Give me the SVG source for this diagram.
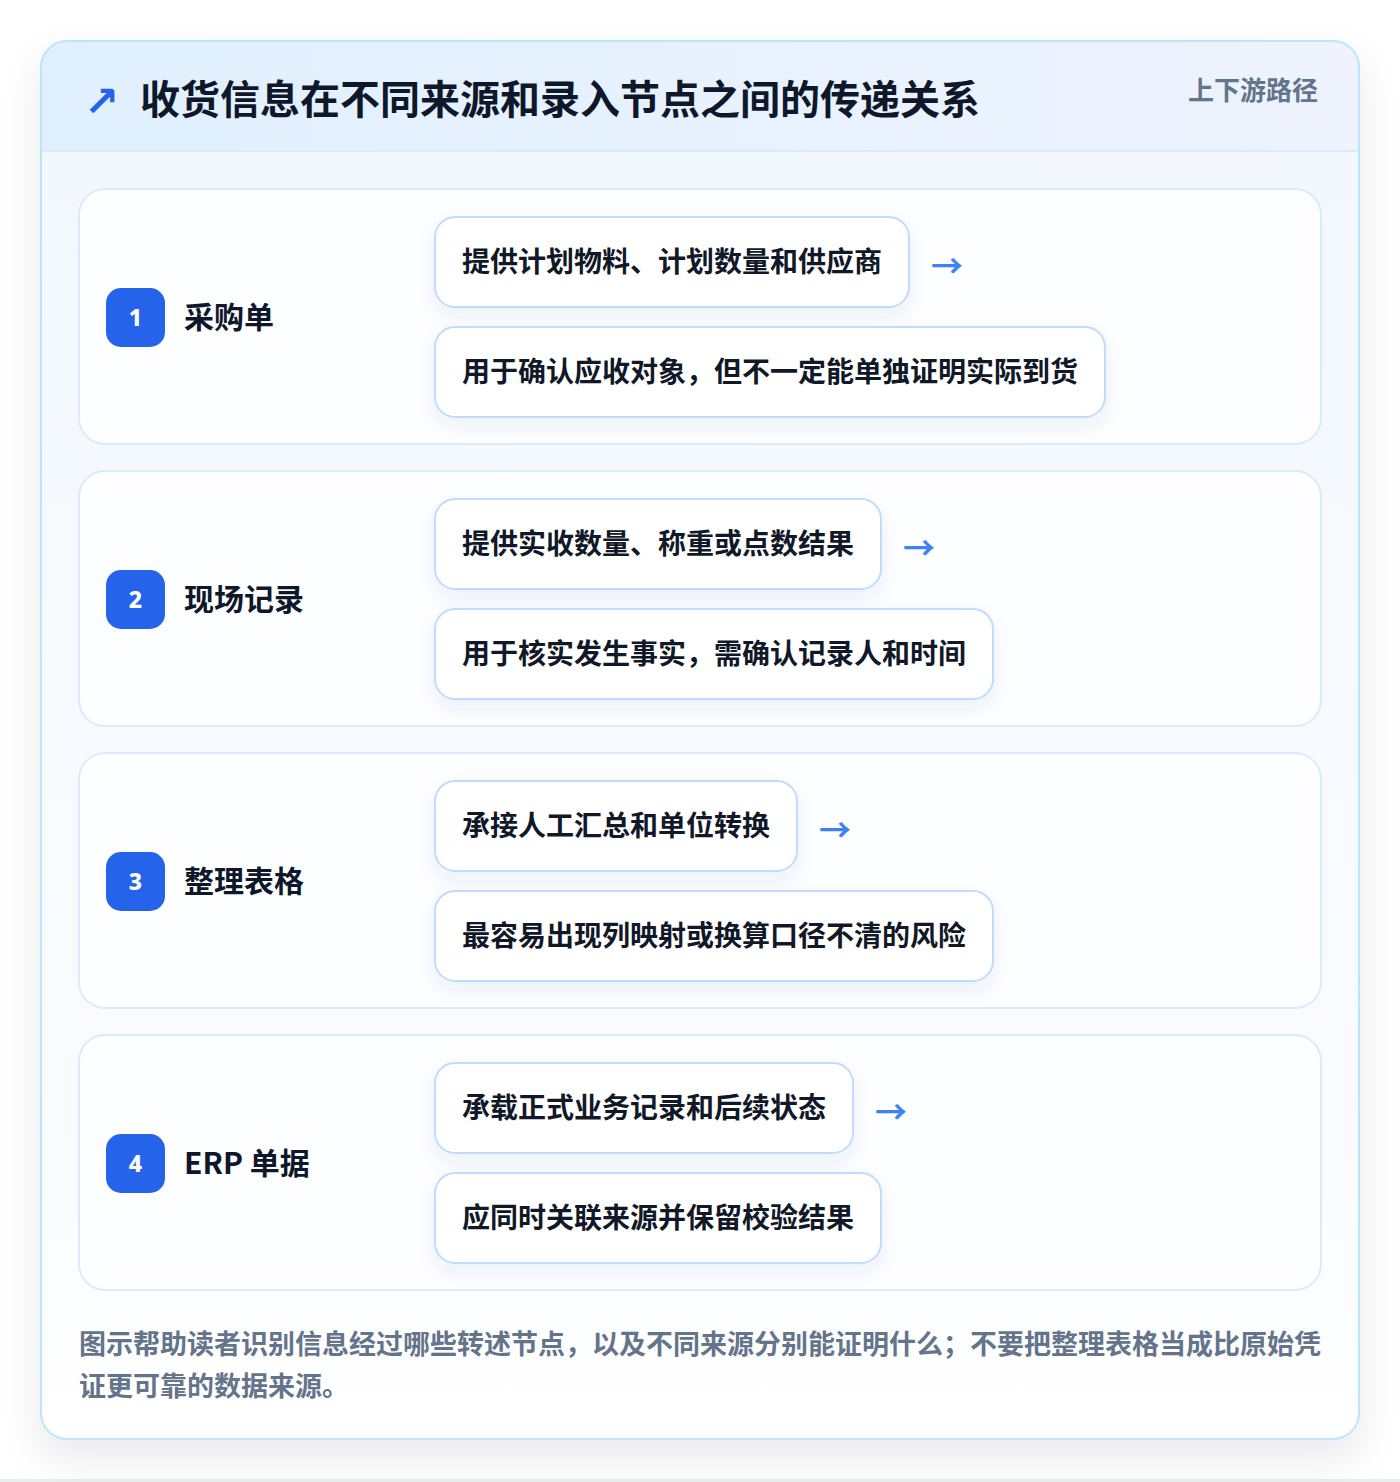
<svg xmlns="http://www.w3.org/2000/svg" width="1400" height="1482" viewBox="0 0 1400 1482">
<defs>
<linearGradient id="hdr" x1="0" y1="0" x2="1" y2="0"><stop offset="0" stop-color="#e0f0fe"/><stop offset="1" stop-color="#eef3fd"/></linearGradient>
<linearGradient id="body" x1="0" y1="0" x2="0" y2="1"><stop offset="0" stop-color="#f2f8ff"/><stop offset="0.75" stop-color="#f9fbfe"/><stop offset="1" stop-color="#ffffff"/></linearGradient>
<filter id="cardsh" x="-10%" y="-10%" width="120%" height="120%"><feDropShadow dx="0" dy="18" stdDeviation="20" flood-color="#0f172a" flood-opacity="0.09"/></filter>
<filter id="boxsh" x="-10%" y="-30%" width="120%" height="170%"><feDropShadow dx="0" dy="8" stdDeviation="9" flood-color="#1e3a8a" flood-opacity="0.07"/></filter>
<clipPath id="cardclip"><rect x="41" y="41" width="1318" height="1398" rx="26"/></clipPath>
</defs>
<style>
.t{font-family:"Noto Sans CJK SC","Noto Sans",sans-serif;font-weight:700}
.title{font-size:40px;fill:#0f172a}
.tag{font-size:26px;fill:#64748b}
.panel{fill:#fdfeff;stroke:#dbeafe;stroke-width:2}
.badge{fill:#2563eb}
.num{font-family:"Noto Sans",Inter,sans-serif;font-weight:800;font-size:23px;fill:#ffffff}
.lbl{font-size:30px;fill:#0f172a}
.box{fill:#ffffff;stroke:#bfdbfe;stroke-width:2}
.bt{font-size:28px;fill:#111827}
.arr{font-family:"Noto Sans CJK SC",sans-serif;font-weight:700;font-size:32px;fill:#3b82f6}
.foot{font-size:27px;fill:#64748b}
</style>
<rect x="0" y="0" width="1400" height="1482" fill="#ffffff"/>
<rect x="0" y="1479" width="1400" height="3" fill="#ebedf1"/>
<g id="card">
<rect x="41" y="41" width="1318" height="1398" rx="26" fill="#ffffff" filter="url(#cardsh)"/>
<g clip-path="url(#cardclip)">
<rect x="41" y="41" width="1318" height="1398" fill="url(#body)"/>
<rect x="41" y="41" width="1318" height="110" fill="url(#hdr)"/>
<line x1="41" y1="151" x2="1359" y2="151" stroke="#dbeafe" stroke-width="2"/>
</g>
<rect x="41" y="41" width="1318" height="1398" rx="26" fill="none" stroke="#bae6fd" stroke-width="2"/>
</g>
<g id="header">
<text x="84" y="116" font-size="42" font-weight="700" fill="#2563eb" font-family="DejaVu Sans,sans-serif">↗</text>
<text class="t title" x="140" y="114">收货信息在不同来源和录入节点之间的传递关系</text>
<text class="t tag" x="1318" y="100" text-anchor="end">上下游路径</text>
</g>
<g id="node-1">
<rect class="panel" x="79" y="189" width="1242" height="255" rx="26"/>
<rect class="badge" x="106" y="288" width="59" height="59" rx="15"/>
<text class="num" x="135.5" y="326" text-anchor="middle">1</text>
<text class="t lbl" x="184" y="328">采购单</text>
<g filter="url(#boxsh)"><rect class="box" x="435" y="217" width="474" height="90" rx="20"/><rect class="box" x="435" y="327" width="670" height="90" rx="20"/></g>
<text class="t bt" x="462" y="272">提供计划物料、计划数量和供应商</text>
<text class="t bt" x="462" y="382">用于确认应收对象，但不一定能单独证明实际到货</text>
</g>
<g id="node-2">
<rect class="panel" x="79" y="471" width="1242" height="255" rx="26"/>
<rect class="badge" x="106" y="570" width="59" height="59" rx="15"/>
<text class="num" x="135.5" y="608" text-anchor="middle">2</text>
<text class="t lbl" x="184" y="610">现场记录</text>
<g filter="url(#boxsh)"><rect class="box" x="435" y="499" width="446" height="90" rx="20"/><rect class="box" x="435" y="609" width="558" height="90" rx="20"/></g>
<text class="t bt" x="462" y="554">提供实收数量、称重或点数结果</text>
<text class="t bt" x="462" y="664">用于核实发生事实，需确认记录人和时间</text>
</g>
<g id="node-3">
<rect class="panel" x="79" y="753" width="1242" height="255" rx="26"/>
<rect class="badge" x="106" y="852" width="59" height="59" rx="15"/>
<text class="num" x="135.5" y="890" text-anchor="middle">3</text>
<text class="t lbl" x="184" y="892">整理表格</text>
<g filter="url(#boxsh)"><rect class="box" x="435" y="781" width="362" height="90" rx="20"/><rect class="box" x="435" y="891" width="558" height="90" rx="20"/></g>
<text class="t bt" x="462" y="836">承接人工汇总和单位转换</text>
<text class="t bt" x="462" y="946">最容易出现列映射或换算口径不清的风险</text>
</g>
<g id="node-4">
<rect class="panel" x="79" y="1035" width="1242" height="255" rx="26"/>
<rect class="badge" x="106" y="1134" width="59" height="59" rx="15"/>
<text class="num" x="135.5" y="1172" text-anchor="middle">4</text>
<text class="t lbl" x="184" y="1174">ERP 单据</text>
<g filter="url(#boxsh)"><rect class="box" x="435" y="1063" width="418" height="90" rx="20"/><rect class="box" x="435" y="1173" width="446" height="90" rx="20"/></g>
<text class="t bt" x="462" y="1118">承载正式业务记录和后续状态</text>
<text class="t bt" x="462" y="1228">应同时关联来源并保留校验结果</text>
</g>
<g id="connectors">
<text class="arr" x="931" y="278">→</text>
<text class="arr" x="903" y="560">→</text>
<text class="arr" x="819" y="842">→</text>
<text class="arr" x="875" y="1124">→</text>
</g>
<g id="footer">
<text class="t foot" x="79" y="1354">图示帮助读者识别信息经过哪些转述节点，以及不同来源分别能证明什么；不要把整理表格当成比原始凭</text>
<text class="t foot" x="79" y="1396">证更可靠的数据来源。</text>
</g>
</svg>
